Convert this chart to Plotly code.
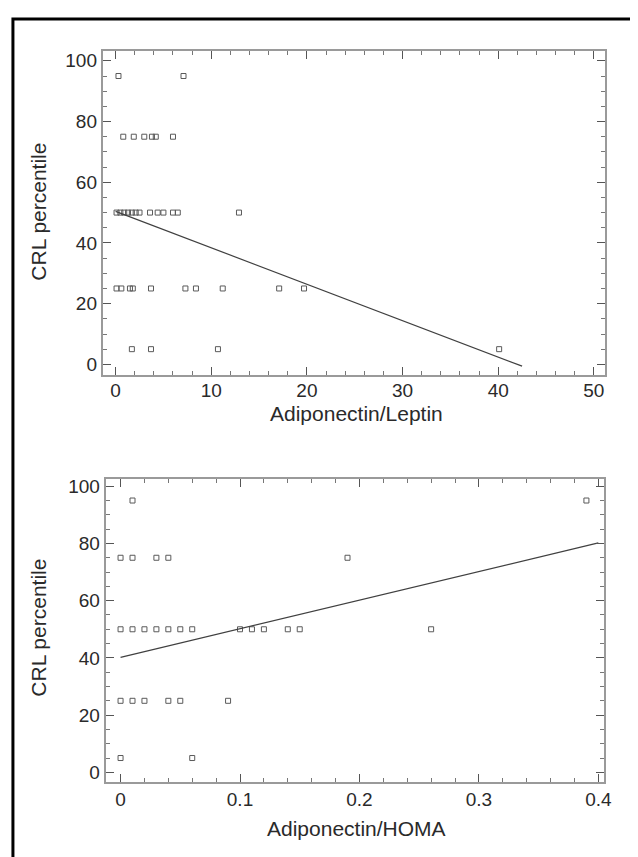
import plotly.graph_objects as go

# ---- data: top panel (Adiponectin/Leptin vs CRL percentile) ----
al_x = [0.3, 7.1,
        0.8, 1.9, 3.0, 3.8, 4.2, 6.0,
        0.1, 0.5, 0.9, 1.3, 1.7, 2.1, 2.5, 3.6, 4.4, 5.0, 6.0, 6.5, 12.9,
        0.1, 0.6, 1.5, 1.8, 3.7, 7.3, 8.4, 11.2, 17.1, 19.7,
        1.7, 3.7, 10.7, 40.1]
al_y = [95, 95,
        75, 75, 75, 75, 75, 75,
        50, 50, 50, 50, 50, 50, 50, 50, 50, 50, 50, 50, 50,
        25, 25, 25, 25, 25, 25, 25, 25, 25, 25,
        5, 5, 5, 5]
al_fit_x = [0.0, 42.5]
al_fit_y = [50.4, -0.6]

# ---- data: bottom panel (Adiponectin/HOMA vs CRL percentile) ----
ah_x = [0.01, 0.39,
        0.0, 0.01, 0.03, 0.04, 0.19,
        0.0, 0.01, 0.02, 0.03, 0.04, 0.05, 0.06, 0.10, 0.11, 0.12, 0.14, 0.15, 0.26,
        0.0, 0.01, 0.02, 0.04, 0.05, 0.09,
        0.0, 0.06]
ah_y = [95, 95,
        75, 75, 75, 75, 75,
        50, 50, 50, 50, 50, 50, 50, 50, 50, 50, 50, 50, 50,
        25, 25, 25, 25, 25, 25,
        5, 5]
ah_fit_x = [0.0, 0.40]
ah_fit_y = [40.2, 80.2]

y_ticks = [0, 20, 40, 60, 80, 100]
al_ticks = [0, 10, 20, 30, 40, 50]
ah_ticks = [0, 0.1, 0.2, 0.3, 0.4]
ah_ticktext = ["0", "0.1", "0.2", "0.3", "0.4"]

# the page body has an 8px margin: figure is sized to fill the rest of the window
OFF = 8
W, H = 638 - OFF, 857 - OFF
FONT = "Liberation Sans, Arial, sans-serif"
TXT = "#2a2a2a"
TICK_SIZE = 19
TITLE_SIZE = 21

fig = go.Figure()

marker = dict(symbol="square-open", size=5, color="#5a5a5a", line=dict(width=1, color="#5a5a5a"))
fig.add_trace(go.Scatter(x=al_x, y=al_y, mode="markers", marker=marker,
                         xaxis="x", yaxis="y", showlegend=False))
fig.add_trace(go.Scatter(x=al_fit_x, y=al_fit_y, mode="lines",
                         line=dict(color="#404040", width=1.2),
                         xaxis="x", yaxis="y", showlegend=False))
fig.add_trace(go.Scatter(x=ah_x, y=ah_y, mode="markers", marker=marker,
                         xaxis="x2", yaxis="y2", showlegend=False))
fig.add_trace(go.Scatter(x=ah_fit_x, y=ah_fit_y, mode="lines",
                         line=dict(color="#404040", width=1.2),
                         xaxis="x2", yaxis="y2", showlegend=False))


def ax(**kw):
    base = dict(showline=True, linecolor="#9a9a9a", linewidth=2, mirror="ticks",
                ticks="inside", ticklen=8, tickwidth=1, tickcolor="#555555",
                showgrid=False, zeroline=False,
                tickfont=dict(family=FONT, size=TICK_SIZE, color=TXT))
    base.update(kw)
    return base


def px_x(p):
    return (p - OFF) / W


def px_y(p):
    return 1 - (p - OFF) / H


def title(text, x, y, angle=0):
    return dict(text=text, x=px_x(x), y=px_y(y), xref="paper", yref="paper",
                xanchor="center", yanchor="middle", textangle=angle, showarrow=False,
                font=dict(family=FONT, size=TITLE_SIZE, color=TXT))


minor_style = dict(ticklen=4, tickcolor="#777777", ticks="inside")

fig.update_layout(
    width=W, height=H,
    margin=dict(l=0, r=0, t=0, b=0),
    paper_bgcolor="white", plot_bgcolor="white",
    xaxis=ax(domain=[px_x(104), px_x(613)], range=[-1.34, 51.2], anchor="y",
             tickmode="array", tickvals=al_ticks, ticklabelstandoff=-3,
             minor=dict(dtick=2, **minor_style)),
    yaxis=ax(domain=[px_y(374), px_y(48)], range=[-3.6, 103.3], anchor="x",
             tickmode="array", tickvals=y_ticks,
             minor=dict(dtick=5, **minor_style)),
    xaxis2=ax(domain=[px_x(107), px_x(612)], range=[-0.0124, 0.405], anchor="y2",
              tickmode="array", tickvals=ah_ticks, ticktext=ah_ticktext, ticklabelstandoff=-1,
              minor=dict(dtick=0.02, **minor_style)),
    yaxis2=ax(domain=[px_y(783), px_y(478)], range=[-3.5, 102.6], anchor="x2",
              tickmode="array", tickvals=y_ticks,
              minor=dict(dtick=5, **minor_style)),
    annotations=[
        title("CRL percentile", 38, 210, -90),
        title("Adiponectin/Leptin", 361, 412),
        title("CRL percentile", 38, 628, -90),
        title("Adiponectin/HOMA", 361, 829),
    ],
    shapes=[
        dict(type="rect", xref="paper", yref="paper",
             x0=px_x(13), x1=1.2, y0=-0.2, y1=px_y(16),
             line=dict(color="black", width=3), fillcolor="rgba(0,0,0,0)"),
    ],
)

fig.write_html("out.html")
